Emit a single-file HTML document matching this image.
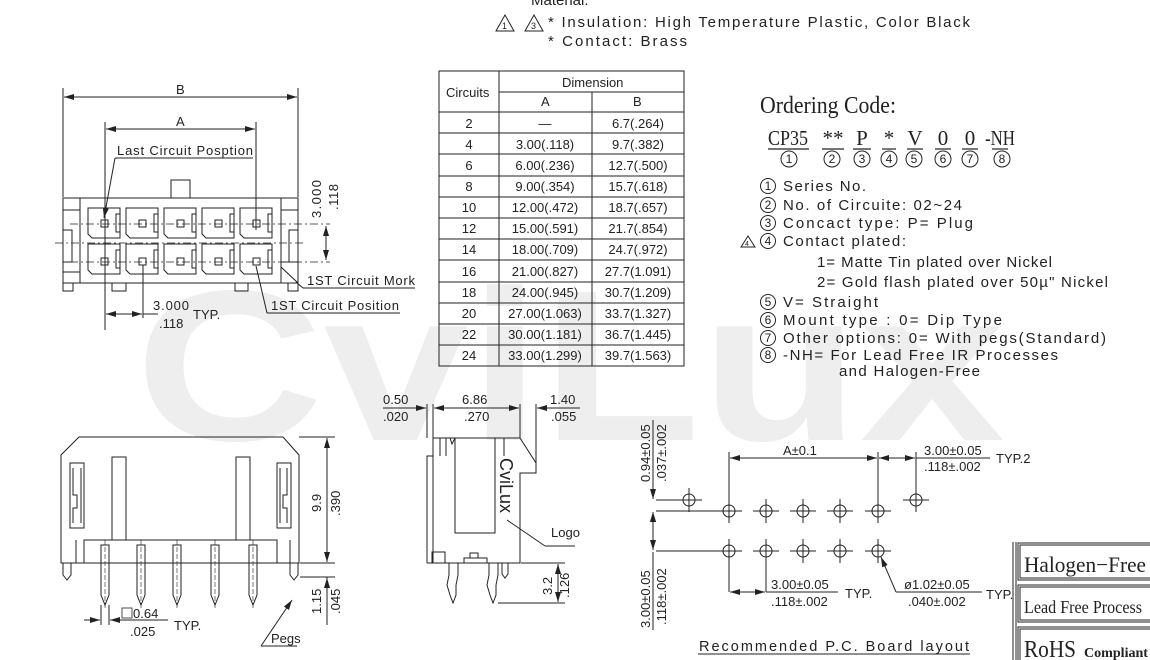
<!DOCTYPE html>
<html><head><meta charset="utf-8"><style>
html,body{margin:0;padding:0;background:#fff;}
svg{display:block;}
text{font-family:"Liberation Sans",sans-serif;fill:#222;}
.s,.s text{font-family:"Liberation Serif",serif;}
</style></head><body>
<svg width="1150" height="660" viewBox="0 0 1150 660" xmlns="http://www.w3.org/2000/svg">
<defs>
<marker id="a" viewBox="0 0 10 6" refX="10" refY="3" markerWidth="10" markerHeight="6" orient="auto-start-reverse" markerUnits="userSpaceOnUse"><path d="M0,0 L10,3 L0,6 z" fill="#222"/></marker>
</defs>
<!-- watermark -->
<text x="135" y="440" font-size="215" font-weight="bold" style="fill:#eeeeee" textLength="870" lengthAdjust="spacingAndGlyphs">CviLux</text>

<g stroke="#222" stroke-width="1" fill="none">
<!-- ===== top-left front view ===== -->
<line x1="63" y1="88" x2="63" y2="197"/><line x1="298" y1="88" x2="298" y2="197"/>
<line x1="64" y1="97" x2="297" y2="97" marker-start="url(#a)" marker-end="url(#a)"/>
<line x1="105" y1="122" x2="105" y2="330"/><line x1="256" y1="122" x2="256" y2="230"/>
<line x1="106" y1="129" x2="255" y2="129" marker-start="url(#a)" marker-end="url(#a)"/>
<line x1="115" y1="158" x2="253" y2="158"/>
<line x1="115" y1="158" x2="104" y2="218" marker-end="url(#a)"/>
<rect x="171" y="180" width="19" height="18"/>
<rect x="63" y="198" width="235" height="85"/>
<line x1="80" y1="198" x2="80" y2="283"/><line x1="281" y1="198" x2="281" y2="283"/>
<line x1="63" y1="210" x2="80" y2="210"/><line x1="281" y1="210" x2="298" y2="210"/>
<line x1="63" y1="272" x2="80" y2="272"/><line x1="281" y1="262" x2="298" y2="262"/>
<path d="M63,230 H72 V262 H63 M298,230 H289 V262 H298"/>
<path d="M281,267 L298,283"/>
<path d="M63,283 V291 H73 V283 M112,283 V291 H126 V283 M235,283 V291 H248 V283 M288,283 V291 H298 V283"/>
<g id="cells">
<path d="M88,208 H120 V238 H92 L88,234 Z"/><path d="M88,244 H120 V274 H92 L88,270 Z"/>
<rect x="116" y="214" width="4" height="18"/><rect x="116" y="250" width="4" height="18"/>
</g>
<use href="#cells" x="38"/><use href="#cells" x="76"/><use href="#cells" x="114"/><use href="#cells" x="152"/>
<g stroke-dasharray="8,3,2,3" stroke-width="0.7">
<line x1="70" y1="224" x2="330" y2="224"/><line x1="55" y1="243" x2="305" y2="243"/><line x1="70" y1="262" x2="330" y2="262"/>
</g>
<g stroke-width="1">
<rect x="101" y="220" width="7" height="7"/><rect x="139" y="220" width="7" height="7"/><rect x="177" y="220" width="7" height="7"/><rect x="215" y="220" width="7" height="7"/><rect x="253" y="220" width="7" height="7"/>
<rect x="101" y="258" width="7" height="7"/><rect x="139" y="258" width="7" height="7"/><rect x="177" y="258" width="7" height="7"/><rect x="215" y="258" width="7" height="7"/><rect x="253" y="258" width="7" height="7"/>
</g>
<line x1="326" y1="226" x2="326" y2="260" marker-start="url(#a)" marker-end="url(#a)"/>
<line x1="143" y1="265" x2="143" y2="318"/>
<line x1="106" y1="314" x2="142" y2="314" marker-start="url(#a)" marker-end="url(#a)"/>
<line x1="143" y1="314" x2="158" y2="314"/>
<line x1="296" y1="282" x2="303" y2="288"/><line x1="303" y1="288" x2="415" y2="288"/>
<line x1="256" y1="266" x2="267" y2="313"/><line x1="267" y1="313" x2="400" y2="313"/>

<!-- ===== table ===== -->
<rect x="439" y="71" width="245" height="295"/>
<line x1="499" y1="71" x2="499" y2="366"/><line x1="592" y1="92" x2="592" y2="366"/>
<line x1="499" y1="92" x2="684" y2="92"/>
<line x1="439" y1="112" x2="684" y2="112"/>
<line x1="439" y1="133" x2="684" y2="133"/><line x1="439" y1="154" x2="684" y2="154"/><line x1="439" y1="176" x2="684" y2="176"/><line x1="439" y1="197" x2="684" y2="197"/><line x1="439" y1="218" x2="684" y2="218"/><line x1="439" y1="239" x2="684" y2="239"/><line x1="439" y1="260" x2="684" y2="260"/><line x1="439" y1="282" x2="684" y2="282"/><line x1="439" y1="303" x2="684" y2="303"/><line x1="439" y1="324" x2="684" y2="324"/><line x1="439" y1="345" x2="684" y2="345"/>

<!-- ===== bottom-left side view ===== -->
<path d="M61,563 V455 L79,437 H283 L299,455 V563 Z"/>
<line x1="61" y1="563" x2="299" y2="563"/>
<path d="M84,563 V540 H277 V563"/>
<path d="M76,540 V563 M290,540 V563"/>
<rect x="112" y="457" width="14" height="83"/><rect x="236" y="457" width="14" height="83"/>
<rect x="70" y="463" width="14" height="65"/><rect x="277" y="463" width="14" height="65"/>
<path d="M73,468 V495 H77 V508 H73 V523 M81,468 V523 M287,468 V495 H283 V508 H287 V523 M280,468 V523"/>
<path d="M63,563 V575 L67,580 L71,575 V563 M290,563 V575 L294,580 L298,575 V563"/>
<g id="pin"><path d="M101,545 V595 L105,605 L109,595 V545 Z"/><line x1="105" y1="540" x2="105" y2="610" stroke-dasharray="5,2" stroke-width="0.6"/></g>
<use href="#pin" x="36"/><use href="#pin" x="72"/><use href="#pin" x="110"/><use href="#pin" x="148"/>
<line x1="299" y1="437" x2="335" y2="437"/><line x1="300" y1="563" x2="335" y2="563"/><line x1="300" y1="577" x2="335" y2="577"/>
<line x1="327" y1="438" x2="327" y2="562" marker-start="url(#a)" marker-end="url(#a)"/>
<line x1="327" y1="577" x2="327" y2="625"/><line x1="327" y1="590" x2="327" y2="578" marker-end="url(#a)"/>
<line x1="101" y1="605" x2="101" y2="625"/><line x1="109" y1="605" x2="109" y2="625"/>
<line x1="84" y1="620" x2="100" y2="620" marker-end="url(#a)"/><line x1="126" y1="620" x2="110" y2="620" marker-end="url(#a)"/>
<line x1="126" y1="620" x2="168" y2="620"/>
<line x1="261" y1="646" x2="297" y2="646"/><line x1="261" y1="646" x2="292" y2="600" marker-end="url(#a)"/>

<!-- ===== side view ===== -->
<path d="M427,563 V456 H433 V438 H520 L536,463 V473 H520 V563 H427"/>
<line x1="433" y1="456" x2="433" y2="563"/>
<path d="M455,438 V533 H495 V438"/>
<path d="M440,438 V456 M446,438 V456 M450,438 L452,444 L455,438"/>
<line x1="504" y1="438" x2="504" y2="456"/>
<path d="M432,563 V552 H445 V563 M464,563 V558 H487 V563 M470,558 V553 H478 V558"/>
<path d="M449,563 V575 L447,585 L450,595 L453,603 L456,595 V585 L458,575 V563 M489,563 V575 L487,585 L490,595 L493,603 L496,595 V585 L498,575 V563"/>
<path d="M502,563 V574 L505,578 L508,574 V563"/>
<line x1="427" y1="404" x2="427" y2="438"/><line x1="433" y1="404" x2="433" y2="438"/><line x1="520" y1="404" x2="520" y2="438"/><line x1="536" y1="404" x2="536" y2="463"/>
<line x1="383" y1="408" x2="426" y2="408" marker-end="url(#a)"/>
<line x1="434" y1="408" x2="519" y2="408" marker-start="url(#a)" marker-end="url(#a)"/>
<line x1="580" y1="408" x2="537" y2="408" marker-end="url(#a)"/>
<line x1="507" y1="520" x2="545" y2="546"/><line x1="545" y1="546" x2="575" y2="546"/>
<line x1="521" y1="563" x2="565" y2="563"/><line x1="498" y1="603" x2="565" y2="603"/>
<line x1="558" y1="564" x2="558" y2="602" marker-start="url(#a)" marker-end="url(#a)"/>

<!-- ===== PCB layout ===== -->
<g id="h"><circle cx="729" cy="511" r="6"/><line x1="716" y1="511" x2="742" y2="511"/><line x1="729" y1="499" x2="729" y2="523"/></g>
<use href="#h" x="37"/><use href="#h" x="74"/><use href="#h" x="111"/><use href="#h" x="149"/>
<use href="#h" y="40"/><use href="#h" x="37" y="40"/><use href="#h" x="74" y="40"/><use href="#h" x="111" y="40"/><use href="#h" x="149" y="40"/>
<use href="#h" x="-40" y="-11"/><use href="#h" x="187" y="-11"/>
<line x1="729" y1="452" x2="729" y2="500"/><line x1="878" y1="452" x2="878" y2="500"/><line x1="916" y1="452" x2="916" y2="489"/>
<line x1="730" y1="458" x2="877" y2="458" marker-start="url(#a)" marker-end="url(#a)"/>
<line x1="879" y1="458" x2="915" y2="458" marker-start="url(#a)" marker-end="url(#a)"/>
<line x1="916" y1="458" x2="990" y2="458"/>
<line x1="656" y1="500" x2="677" y2="500"/><line x1="656" y1="511" x2="716" y2="511"/><line x1="656" y1="551" x2="716" y2="551"/>
<line x1="653" y1="420" x2="653" y2="499" marker-end="url(#a)"/>
<line x1="653" y1="525" x2="653" y2="512" marker-end="url(#a)"/>
<line x1="653" y1="512" x2="653" y2="550" marker-start="url(#a)" marker-end="url(#a)"/>
<line x1="653" y1="552" x2="653" y2="630"/>
<line x1="729" y1="563" x2="729" y2="592"/><line x1="766" y1="563" x2="766" y2="592"/>
<line x1="730" y1="592" x2="765" y2="592" marker-start="url(#a)" marker-end="url(#a)"/>
<line x1="766" y1="592" x2="838" y2="592"/>
<line x1="896" y1="592" x2="982" y2="592"/><line x1="896" y1="592" x2="881" y2="557" marker-end="url(#a)"/>
<line x1="698" y1="654" x2="970" y2="654"/>

<!-- badges -->
<line x1="1013" y1="542" x2="1013" y2="660"/><line x1="1016" y1="542" x2="1016" y2="660"/>
<rect x="1018" y="543" width="134" height="37"/><rect x="1020" y="545" width="134" height="33"/>
<rect x="1018" y="585" width="134" height="37"/><rect x="1020" y="587" width="134" height="33"/>
<rect x="1018" y="627" width="134" height="37"/><rect x="1020" y="629" width="134" height="37"/>

<!-- warning triangles -->
<path d="M496,31 L505,15 L514,31 Z M525,31 L534,15 L543,31 Z M741,247 L748,236 L755,247 Z"/>

<!-- circled numbers (code line) -->
<circle cx="789" cy="159" r="8"/><circle cx="832" cy="159" r="8"/><circle cx="862" cy="159" r="8"/><circle cx="889" cy="159" r="8"/><circle cx="914" cy="159" r="8"/><circle cx="943" cy="159" r="8"/><circle cx="970" cy="159" r="8"/><circle cx="1002" cy="159" r="8"/>
<!-- circled numbers (list) -->
<circle cx="768" cy="186" r="7.5"/><circle cx="768" cy="205" r="7.5"/><circle cx="768" cy="223" r="7.5"/><circle cx="768" cy="241" r="7.5"/><circle cx="768" cy="302" r="7.5"/><circle cx="768" cy="320" r="7.5"/><circle cx="768" cy="338" r="7.5"/><circle cx="768" cy="355" r="7.5"/>
</g>

<!-- ===== texts ===== -->
<g font-size="13">
<text x="176" y="94" font-size="13">B</text>
<text x="176" y="126">A</text>
<text x="117" y="155" textLength="136">Last Circuit Posption</text>
<text transform="translate(321,218) rotate(-90)" textLength="38">3.000</text>
<text transform="translate(338,210) rotate(-90)" textLength="26">.118</text>
<text x="153" y="310" textLength="36">3.000</text>
<text x="159" y="328">.118</text>
<text x="193" y="319">TYP.</text>
<text x="307" y="285" textLength="108">1ST Circuit Mork</text>
<text x="271" y="310" textLength="128">1ST Circuit Position</text>

<text x="446" y="97">Circuits</text>
<text x="562" y="87">Dimension</text>
<text x="541" y="106">A</text>
<text x="633" y="106">B</text>
</g>
<g font-size="13" text-anchor="middle">
<text x="469" y="128">2</text><text x="545" y="128">—</text><text x="638" y="128">6.7(.264)</text>
<text x="469" y="149">4</text><text x="545" y="149">3.00(.118)</text><text x="638" y="149">9.7(.382)</text>
<text x="469" y="170">6</text><text x="545" y="170">6.00(.236)</text><text x="638" y="170">12.7(.500)</text>
<text x="469" y="191">8</text><text x="545" y="191">9.00(.354)</text><text x="638" y="191">15.7(.618)</text>
<text x="469" y="212">10</text><text x="545" y="212">12.00(.472)</text><text x="638" y="212">18.7(.657)</text>
<text x="469" y="233">12</text><text x="545" y="233">15.00(.591)</text><text x="638" y="233">21.7(.854)</text>
<text x="469" y="254">14</text><text x="545" y="254">18.00(.709)</text><text x="638" y="254">24.7(.972)</text>
<text x="469" y="276">16</text><text x="545" y="276">21.00(.827)</text><text x="638" y="276">27.7(1.091)</text>
<text x="469" y="297">18</text><text x="545" y="297">24.00(.945)</text><text x="638" y="297">30.7(1.209)</text>
<text x="469" y="318">20</text><text x="545" y="318">27.00(1.063)</text><text x="638" y="318">33.7(1.327)</text>
<text x="469" y="339">22</text><text x="545" y="339">30.00(1.181)</text><text x="638" y="339">36.7(1.445)</text>
<text x="469" y="360">24</text><text x="545" y="360">33.00(1.299)</text><text x="638" y="360">39.7(1.563)</text>
</g>

<!-- material -->
<g font-size="15">
<text x="531" y="5">Material:</text>
<text x="548" y="27" textLength="422">* Insulation: High Temperature Plastic, Color Black</text>
<text x="548" y="46" textLength="139">* Contact: Brass</text>
<text x="502" y="29" font-size="9">1</text><text x="531" y="29" font-size="9">3</text>
<text x="745" y="246" font-size="7">4</text>
</g>

<!-- ordering code -->
<text class="s" x="760" y="113" font-size="24" textLength="136" lengthAdjust="spacingAndGlyphs">Ordering Code:</text>
<g class="s" font-size="21" text-anchor="middle">
<text x="788" y="145" textLength="40" lengthAdjust="spacingAndGlyphs">CP35</text>
<text x="833" y="145">**</text><text x="862" y="145">P</text><text x="889" y="145">*</text><text x="915" y="145">V</text><text x="943" y="145">0</text><text x="970" y="145">0</text>
<text x="1000" y="145" textLength="30" lengthAdjust="spacingAndGlyphs">-NH</text>
</g>
<g stroke="#222" stroke-width="1.2">
<line x1="768" y1="149" x2="809" y2="149"/><line x1="822" y1="149" x2="844" y2="149"/><line x1="853" y1="149" x2="871" y2="149"/><line x1="882" y1="149" x2="896" y2="149"/><line x1="907" y1="149" x2="923" y2="149"/><line x1="935" y1="149" x2="951" y2="149"/><line x1="962" y1="149" x2="978" y2="149"/><line x1="992" y1="149" x2="1008" y2="149"/>
</g>
<g font-size="12" text-anchor="middle">
<text x="789" y="163">1</text><text x="832" y="163">2</text><text x="862" y="163">3</text><text x="889" y="163">4</text><text x="914" y="163">5</text><text x="943" y="163">6</text><text x="970" y="163">7</text><text x="1002" y="163">8</text>
<text x="768" y="190">1</text><text x="768" y="209">2</text><text x="768" y="227">3</text><text x="768" y="245">4</text><text x="768" y="306">5</text><text x="768" y="324">6</text><text x="768" y="342">7</text><text x="768" y="359">8</text>
</g>
<g font-size="15">
<text x="783" y="191" textLength="83">Series No.</text>
<text x="783" y="210" textLength="179">No. of Circuite: 02~24</text>
<text x="783" y="228" textLength="190">Concact type: P= Plug</text>
<text x="783" y="246" textLength="123">Contact plated:</text>
<text x="817" y="267" textLength="235">1= Matte Tin plated over Nickel</text>
<text x="817" y="287" textLength="291">2= Gold flash plated over 50µ" Nickel</text>
<text x="783" y="307" textLength="95">V= Straight</text>
<text x="783" y="325" textLength="219">Mount type : 0= Dip Type</text>
<text x="783" y="343" textLength="323">Other options: 0= With pegs(Standard)</text>
<text x="783" y="360" textLength="275">-NH= For Lead Free IR Processes</text>
<text x="839" y="376" textLength="141">and Halogen-Free</text>
</g>

<!-- bottom-left dims -->
<g font-size="13">
<text transform="translate(321,512) rotate(-90)">9.9</text>
<text transform="translate(340,516) rotate(-90)">.390</text>
<text transform="translate(321,614) rotate(-90)">1.15</text>
<text transform="translate(340,614) rotate(-90)">.045</text>
<rect x="122" y="608" width="10" height="10" fill="none" stroke="#222" stroke-width="0.8"/>
<text x="133" y="618">0.64</text>
<text x="130" y="636">.025</text>
<text x="174" y="630">TYP.</text>
<text x="271" y="643">Pegs</text>
<text x="383" y="404">0.50</text><text x="383" y="421">.020</text>
<text x="462" y="404">6.86</text><text x="464" y="421">.270</text>
<text x="550" y="404">1.40</text><text x="551" y="421">.055</text>
<text x="551" y="537">Logo</text>
<text transform="translate(552,595) rotate(-90)">3.2</text>
<text transform="translate(569,598) rotate(-90)">.126</text>
<text transform="translate(500,458) rotate(90)" font-size="18">CviLux</text>
</g>

<!-- PCB text -->
<g font-size="13">
<text x="783" y="455">A±0.1</text>
<text x="924" y="455">3.00±0.05</text>
<text x="924" y="471">.118±.002</text>
<text x="996" y="463">TYP.2</text>
<text transform="translate(650,482) rotate(-90)">0.94±0.05</text>
<text transform="translate(666,482) rotate(-90)">.037±.002</text>
<text transform="translate(650,628) rotate(-90)">3.00±0.05</text>
<text transform="translate(666,625) rotate(-90)">.118±.002</text>
<text x="771" y="589">3.00±0.05</text>
<text x="771" y="606">.118±.002</text>
<text x="845" y="598">TYP.</text>
<text x="904" y="589">ø1.02±0.05</text>
<text x="908" y="606">.040±.002</text>
<text x="986" y="599">TYP.</text>
<text x="699" y="651" font-size="14.5" textLength="270">Recommended P.C. Board layout</text>
</g>
<text class="s" x="1024" y="572" font-size="22" textLength="122" lengthAdjust="spacingAndGlyphs">Halogen−Free</text>
<text class="s" x="1024" y="613" font-size="18" textLength="118" lengthAdjust="spacingAndGlyphs">Lead Free Process</text>
<text class="s" x="1024" y="657" font-size="24" textLength="52" lengthAdjust="spacingAndGlyphs">RoHS</text>
<text class="s" x="1084" y="657" font-size="14" font-weight="bold" textLength="64" lengthAdjust="spacingAndGlyphs">Compliant</text>
</svg>
</body></html>
